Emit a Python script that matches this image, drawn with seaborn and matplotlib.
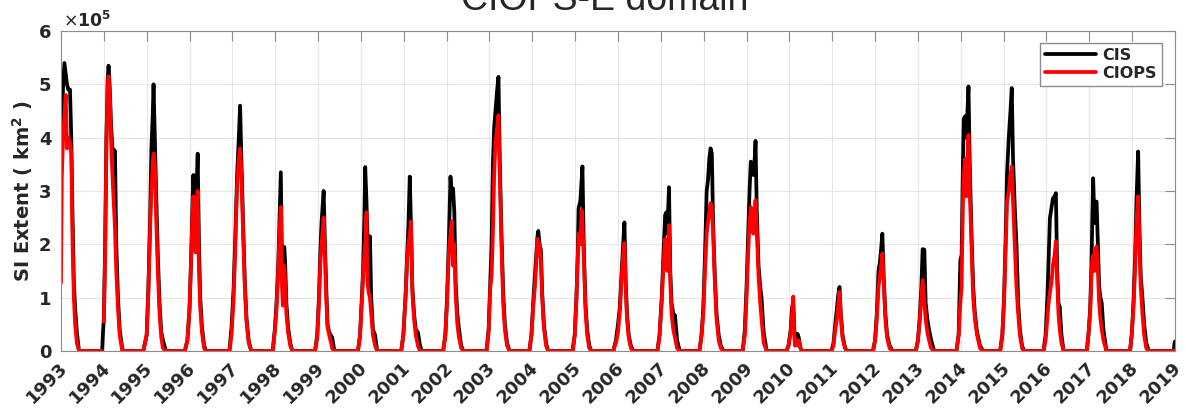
import numpy as np
import pandas as pd
import matplotlib
matplotlib.use("Agg")
import matplotlib.pyplot as plt
import matplotlib.transforms as mtransforms
import seaborn as sns

nan = np.nan

# decimal year of each reading (one row per ice season)
t = [
    1993.00, 1993.02, 1993.05, 1993.08, 1993.11, 1993.14, 1993.17, 1993.21, 1993.24, 1993.27, 1993.30, 1993.33, 1993.37, 1993.42, 1993.96,
    1993.98, 1994.00, 1994.03, 1994.06, 1994.09, 1994.11, 1994.14, 1994.17, 1994.20, 1994.26, 1994.29, 1994.33, 1994.37, 1994.43, 1994.46,
    1994.92, 1995.00, 1995.04, 1995.08, 1995.11, 1995.14, 1995.16, 1995.19, 1995.22, 1995.26, 1995.30, 1995.34, 1995.38, 1995.45,
    1995.89, 1995.95, 1996.00, 1996.04, 1996.07, 1996.09, 1996.12, 1996.14, 1996.17, 1996.19, 1996.22, 1996.25, 1996.29, 1996.34, 1996.39,
    1996.93, 1996.98, 1997.03, 1997.07, 1997.11, 1997.15, 1997.18, 1997.21, 1997.25, 1997.29, 1997.33, 1997.38, 1997.44,
    1997.94, 1997.99, 1998.03, 1998.07, 1998.10, 1998.13, 1998.16, 1998.18, 1998.21, 1998.23, 1998.26, 1998.30, 1998.35, 1998.40,
    1998.93, 1998.98, 1999.02, 1999.05, 1999.08, 1999.13, 1999.16, 1999.19, 1999.22, 1999.26, 1999.33, 1999.38,
    1999.93, 1999.98, 2000.02, 2000.05, 2000.08, 2000.10, 2000.13, 2000.15, 2000.18, 2000.21, 2000.24, 2000.28, 2000.33, 2000.38,
    2000.94, 2000.99, 2001.04, 2001.08, 2001.11, 2001.14, 2001.17, 2001.20, 2001.24, 2001.28, 2001.33, 2001.38, 2001.42,
    2001.92, 2001.97, 2002.01, 2002.05, 2002.09, 2002.12, 2002.15, 2002.18, 2002.21, 2002.25, 2002.29, 2002.34, 2002.39,
    2002.93, 2002.98, 2003.02, 2003.05, 2003.08, 2003.11, 2003.14, 2003.18, 2003.21, 2003.24, 2003.28, 2003.32, 2003.36, 2003.41, 2003.47,
    2003.93, 2003.98, 2004.02, 2004.06, 2004.09, 2004.12, 2004.14, 2004.17, 2004.20, 2004.23, 2004.27, 2004.32, 2004.37,
    2004.94, 2004.99, 2005.03, 2005.06, 2005.08, 2005.12, 2005.15, 2005.17, 2005.20, 2005.24, 2005.28, 2005.33, 2005.38,
    2005.89, 2005.95, 2006.00, 2006.04, 2006.08, 2006.12, 2006.15, 2006.18, 2006.21, 2006.25, 2006.30, 2006.36,
    2006.92, 2006.97, 2007.02, 2007.06, 2007.10, 2007.13, 2007.15, 2007.19, 2007.22, 2007.25, 2007.29, 2007.33, 2007.38, 2007.44,
    2007.90, 2007.95, 2007.99, 2008.03, 2008.07, 2008.10, 2008.13, 2008.16, 2008.19, 2008.22, 2008.26, 2008.30, 2008.35, 2008.40, 2008.46,
    2008.91, 2008.96, 2009.00, 2009.04, 2009.07, 2009.10, 2009.13, 2009.16, 2009.19, 2009.21, 2009.24, 2009.28, 2009.32, 2009.35, 2009.40, 2009.47,
    2009.93, 2009.98, 2010.03, 2010.06, 2010.09, 2010.11, 2010.13, 2010.16, 2010.19, 2010.22, 2010.26, 2010.30,
    2010.98, 2011.03, 2011.07, 2011.11, 2011.14, 2011.17, 2011.20, 2011.24, 2011.30, 2011.36,
    2011.95, 2012.00, 2012.04, 2012.08, 2012.11, 2012.14, 2012.17, 2012.20, 2012.24, 2012.28, 2012.34, 2012.41,
    2012.95, 2013.00, 2013.04, 2013.08, 2013.11, 2013.15, 2013.18, 2013.22, 2013.26, 2013.31, 2013.38,
    2013.90, 2013.95, 2013.99, 2014.02, 2014.05, 2014.07, 2014.10, 2014.13, 2014.16, 2014.18, 2014.21, 2014.25, 2014.29, 2014.33, 2014.38, 2014.45, 2014.52,
    2014.92, 2014.97, 2015.01, 2015.05, 2015.08, 2015.12, 2015.16, 2015.19, 2015.22, 2015.26, 2015.30, 2015.34, 2015.38, 2015.43, 2015.48,
    2015.93, 2015.98, 2016.02, 2016.05, 2016.08, 2016.12, 2016.15, 2016.19, 2016.22, 2016.25, 2016.28, 2016.31, 2016.35, 2016.40,
    2016.94, 2016.98, 2017.02, 2017.05, 2017.07, 2017.09, 2017.12, 2017.14, 2017.17, 2017.20, 2017.23, 2017.26, 2017.29, 2017.33, 2017.40,
    2017.95, 2017.99, 2018.03, 2018.07, 2018.10, 2018.14, 2018.17, 2018.20, 2018.24, 2018.28, 2018.33, 2018.39,
    2018.97, 2018.99, 2019.00,
]

# sea ice extent, in units of 1e5 km^2
cis = [
    3.45, 4.3, 5.0, 5.4, 5.2, 5.0, 4.9, 4.9, 4.0, 2.5, 1.3, 0.8, 0.35, 0, 0,
    0.35, 0.6, 2.0, 4.0, 5.1, 5.35, 4.9, 4.2, 3.8, 3.75, 2.0, 1.0, 0.4, 0.05, 0,
    0, 0.3, 1.2, 2.5, 3.8, 4.4, 5.0, 4.0, 3.0, 1.8, 0.9, 0.35, 0.2, 0,
    0, 0.2, 0.8, 1.8, 2.8, 3.3, 2.6, 2.9, 3.2, 3.7, 2.0, 1.0, 0.45, 0.1, 0,
    0, 0.45, 1.2, 2.2, 3.3, 4.0, 4.6, 3.6, 2.4, 1.3, 0.6, 0.2, 0,
    0, 0.4, 0.9, 1.6, 2.5, 3.35, 1.5, 1.0, 1.95, 1.7, 0.9, 0.45, 0.15, 0,
    0, 0.3, 1.0, 1.8, 2.4, 3.0, 2.0, 1.2, 0.5, 0.35, 0.25, 0,
    0, 0.3, 1.0, 1.5, 2.5, 3.45, 2.8, 2.2, 1.6, 2.15, 1.0, 0.4, 0.3, 0,
    0, 0.3, 1.0, 1.8, 2.4, 3.27, 2.3, 1.2, 0.7, 0.4, 0.35, 0.1, 0,
    0, 0.3, 1.0, 2.0, 3.27, 2.9, 3.05, 2.6, 1.3, 0.7, 0.4, 0.1, 0,
    0, 0.4, 1.3, 2.0, 3.5, 4.2, 4.5, 4.9, 5.14, 3.6, 2.2, 1.1, 0.5, 0.15, 0,
    0, 0.3, 0.9, 1.4, 1.8, 2.15, 2.25, 2.0, 1.9, 1.1, 0.5, 0.15, 0,
    0, 0.3, 1.0, 1.8, 2.68, 2.8, 3.2, 3.46, 2.0, 0.9, 0.4, 0.1, 0,
    0, 0.2, 0.5, 0.8, 1.4, 2.0, 2.41, 1.3, 0.7, 0.3, 0.1, 0,
    0, 0.3, 1.0, 1.8, 2.55, 2.6, 2.2, 3.07, 1.5, 0.9, 0.7, 0.67, 0.2, 0,
    0, 0.3, 0.8, 1.8, 3.0, 3.2, 3.6, 3.8, 3.7, 2.4, 1.4, 0.7, 0.3, 0.1, 0,
    0, 0.4, 1.2, 2.2, 3.0, 3.55, 3.4, 3.3, 3.6, 3.94, 2.6, 1.6, 1.2, 1.0, 0.35, 0,
    0, 0.1, 0.4, 0.8, 0.9, 0.5, 0.15, 0.25, 0.32, 0.25, 0.05, 0,
    0, 0.15, 0.5, 0.8, 1.05, 1.2, 0.7, 0.3, 0.05, 0,
    0, 0.2, 0.7, 1.5, 1.65, 1.9, 2.2, 1.4, 0.7, 0.3, 0.1, 0,
    0, 0.2, 0.6, 1.2, 1.91, 1.9, 0.9, 0.6, 0.4, 0.2, 0,
    0, 0.3, 1.7, 1.8, 3.5, 4.35, 4.4, 4.0, 4.6, 4.96, 3.5, 2.2, 1.2, 0.7, 0.35, 0.1, 0,
    0, 0.3, 1.0, 2.2, 3.33, 4.0, 4.5, 4.93, 3.6, 2.7, 2.0, 0.9, 0.4, 0.1, 0,
    0, 0.3, 1.0, 1.7, 2.49, 2.7, 2.86, 2.9, 2.96, 1.5, 0.9, 0.83, 0.3, 0,
    0, 0.3, 0.8, 1.6, 2.5, 3.24, 2.4, 2.8, 2.8, 2.0, 1.2, 1.0, 0.9, 0.4, 0,
    0, 0.3, 0.9, 1.8, 2.8, 3.74, 2.3, 1.4, 1.0, 0.5, 0.15, 0,
    0, 0.15, 0.18,
]

ciops = [
    1.28, 3.3, 4.0, 4.4, 4.8, 3.8, 4.0, 3.9, 3.7, 2.0, 1.0, 0.5, 0.15, 0, 0,
    nan, 0.55, 1.8, 3.9, 5.0, 5.15, 4.8, 3.9, 3.3, 2.3, 1.5, 0.8, 0.3, 0, 0,
    0, 0.3, 1.1, 2.3, 3.0, 3.5, 3.7, 3.5, 2.5, 1.5, 0.7, 0.25, 0.05, 0,
    0, 0.2, 0.8, 1.8, 2.6, 2.9, 2.3, 1.85, 2.7, 3.0, 1.5, 0.8, 0.35, 0.05, 0,
    0, 0.3, 1.0, 2.0, 3.1, 3.6, 3.8, 3.3, 2.2, 1.2, 0.55, 0.15, 0,
    0, 0.35, 0.8, 1.5, 2.2, 2.7, 1.2, 0.85, 1.6, 1.3, 0.7, 0.35, 0.1, 0,
    0, 0.25, 0.9, 1.6, 2.0, 2.5, 1.8, 1.0, 0.45, 0.3, 0.05, 0,
    0, 0.3, 0.9, 1.4, 1.8, 2.0, 2.6, 1.3, 1.1, 1.0, 0.7, 0.3, 0.1, 0,
    0, 0.3, 1.0, 1.7, 2.0, 2.2, 2.43, 1.1, 0.6, 0.3, 0.1, 0, 0,
    0, 0.3, 0.9, 1.8, 2.2, 2.43, 1.6, 2.0, 1.1, 0.5, 0.25, 0.05, 0,
    0, 0.35, 1.2, 1.4, 2.2, 3.3, 3.9, 4.2, 4.42, 3.3, 2.0, 0.9, 0.4, 0.1, 0,
    0, 0.3, 0.8, 1.2, 1.6, 2.1, 1.8, 2.0, 1.7, 1.0, 0.45, 0.1, 0,
    0, 0.3, 1.0, 1.7, 2.2, 2.0, 2.64, 2.4, 1.8, 0.8, 0.3, 0.05, 0,
    0, 0.15, 0.35, 0.7, 1.3, 1.8, 2.02, 1.2, 0.6, 0.25, 0.05, 0,
    0, 0.3, 0.9, 1.6, 2.1, 1.8, 1.5, 2.36, 1.3, 0.7, 0.4, 0.25, 0.05, 0,
    0, 0.3, 0.7, 1.5, 2.2, 2.4, 2.6, 2.77, 2.7, 2.2, 1.3, 0.6, 0.2, 0.05, 0,
    0, 0.3, 1.0, 1.9, 2.4, 2.7, 2.5, 2.2, 2.6, 2.83, 2.2, 1.4, 0.9, 0.6, 0.15, 0,
    0, 0.1, 0.35, 0.7, 1.02, 0.4, 0.1, 0.2, 0.1, 0.2, 0.05, 0,
    0, 0.1, 0.4, 0.6, 0.85, 1.11, 0.65, 0.25, 0.05, 0,
    0, 0.2, 0.6, 1.2, 1.4, 1.6, 1.83, 1.3, 0.6, 0.25, 0.05, 0,
    0, 0.2, 0.55, 1.0, 1.33, 0.9, 0.6, 0.35, 0.2, 0.05, 0,
    0, 0.3, 0.9, 1.2, 2.8, 3.3, 3.6, 2.9, 3.7, 4.05, 3.0, 2.0, 1.0, 0.6, 0.3, 0.05, 0,
    0, 0.3, 0.9, 2.0, 2.8, 3.0, 3.3, 3.46, 2.8, 2.0, 1.2, 0.7, 0.3, 0.05, 0,
    0, 0.2, 0.6, 0.9, 1.1, 1.3, 1.6, 1.8, 2.06, 1.3, 0.7, 0.4, 0.15, 0,
    0, 0.3, 0.7, 1.4, 1.7, 1.8, 1.5, 1.9, 1.96, 1.5, 0.9, 0.6, 0.4, 0.2, 0,
    0, 0.3, 0.8, 1.6, 2.4, 2.9, 2.0, 1.2, 0.7, 0.3, 0.05, 0,
    0, 0, 0.02,
]

years = list(range(1993, 2020))
yticks = [0, 1, 2, 3, 4, 5, 6]

df = pd.DataFrame({"t": t, "CIS": cis, "CIOPS": ciops})
# CIOPS has a short gap: split it into runs so the line breaks there
df["run"] = df["CIOPS"].isna().cumsum()

sns.set_style("whitegrid")
plt.rcParams["font.family"] = ["DejaVu Sans"]

fig = plt.figure(figsize=(11.86, 4.09), dpi=100)
ax = fig.add_axes([61 / 1186, 58 / 409, 1114 / 1186, 320 / 409])

sns.lineplot(data=df, x="t", y="CIS", color="black", lw=2.7, label="CIS", ax=ax)
runs = sorted(df["run"].unique())
for r in runs:
    part = df[df["run"] == r].dropna(subset=["CIOPS"])
    sns.lineplot(data=part, x="t", y="CIOPS", color="red", lw=2.7,
                 label="CIOPS" if r == runs[-1] else "_nolegend_", ax=ax)

ax.set_xlim(1993, 2019)
ax.set_ylim(0, 6)
ax.set_xticks(years)
ax.tick_params(axis="x", labelbottom=False)
# rotated year labels, placed the way the original (MATLAB) figure has them
shift = mtransforms.ScaledTranslation(7 / 100, -18 / 100, fig.dpi_scale_trans)
for y in years:
    ax.text(y, 0, str(y), transform=ax.get_xaxis_transform() + shift,
            rotation=45, rotation_mode="anchor", ha="right", va="baseline",
            fontweight="bold", fontsize=13, color="#262626")
ax.set_yticks(yticks)
ax.set_yticklabels([str(v) for v in yticks], fontweight="bold", fontsize=13)
ax.set_xlabel("")
ax.set_ylabel(r"SI Extent ( km$^{\mathbf{2}}$ )", fontweight="bold", fontsize=14,
              color="#262626", labelpad=3)

ax.tick_params(direction="in", length=7, width=0.8, top=True, right=True,
               colors="#8c8c8c", labelcolor="#262626")
ax.tick_params(axis="y", pad=7)
ax.grid(True, color="#e6e6e6", lw=0.8)
for s in ax.spines.values():
    s.set_visible(True)
    s.set_color("#8c8c8c")
    s.set_linewidth(0.8)

ax.legend(loc="upper right", bbox_to_anchor=(1 - 13 / 1114, 1 - 12 / 320),
          borderaxespad=0, frameon=True, fancybox=False, edgecolor="#8c8c8c",
          framealpha=1, prop={"weight": "bold", "size": 11.5}, handlelength=3.2,
          handletextpad=0.4, borderpad=0.3, labelspacing=0.2)

fig.text(63 / 1186, 1 - 27 / 409, r"$\times\mathbf{10^{5}}$", fontsize=12.5,
         color="#262626", ha="left", va="baseline")
fig.text(605 / 1186, 1 - 10 / 409, "CIOPS-E domain", fontsize=27,
         family="Liberation Sans", ha="center", va="baseline")

fig.savefig("out.png", dpi=100)
